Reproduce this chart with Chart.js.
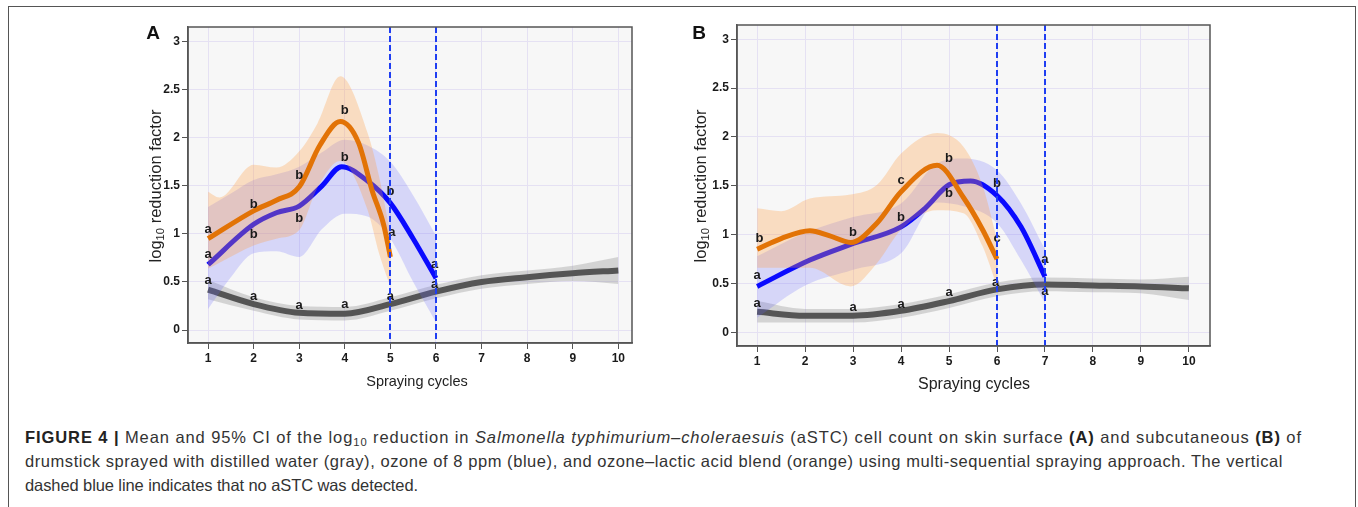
<!DOCTYPE html>
<html><head><meta charset="utf-8">
<script src="https://cdn.jsdelivr.net/npm/chart.js@4"></script>
<style>
html,body{margin:0;padding:0;background:#fff;width:1358px;height:507px;overflow:hidden;font-family:"Liberation Sans",Arial,sans-serif;}
#frame{position:absolute;left:8px;top:6px;width:1348px;height:530px;border:1.5px solid #555;box-sizing:border-box;}
canvas{position:absolute;}
.ytitle{position:absolute;white-space:nowrap;transform:translate(-50%,-50%) rotate(-90deg);font-size:16.5px;color:#222;}
.xtitle{position:absolute;white-space:nowrap;transform:translate(-50%,-50%);color:#222;}
.plabel{position:absolute;font-weight:bold;font-size:19px;transform:translate(-50%,-50%);color:#111;}
.cap{position:absolute;left:25px;white-space:nowrap;font-size:16.5px;color:#333;transform:translateY(-50%);}
.cap b{color:#222;}
sub{font-size:68%;vertical-align:-3px;line-height:0;}
</style></head>
<body>
<div id="frame"></div>
<canvas id="cA" width="540" height="400" style="left:110px;top:0px;"></canvas>
<canvas id="cB" width="560" height="400" style="left:660px;top:0px;"></canvas>
<div class="plabel" style="left:153px;top:33px;">A</div>
<div class="plabel" style="left:699px;top:33px;">B</div>
<div class="ytitle" style="left:155px;top:186px;">log<sub>10</sub> reduction factor</div>
<div class="ytitle" style="left:700px;top:186px;">log<sub>10</sub> reduction factor</div>
<div class="xtitle" style="left:417px;top:381px;font-size:14.5px;">Spraying cycles</div>
<div class="xtitle" style="left:974px;top:384px;font-size:16px;">Spraying cycles</div>
<div class="cap" data-w="1277" style="top:437px;"><b>FIGURE 4 |</b> Mean and 95% CI of the log<sub>10</sub> reduction in <i>Salmonella typhimurium–choleraesuis</i> (aSTC) cell count on skin surface <b>(A)</b> and subcutaneous <b>(B)</b> of</div>
<div class="cap" data-w="1258" style="top:461px;">drumstick sprayed with distilled water (gray), ozone of 8 ppm (blue), and ozone–lactic acid blend (orange) using multi-sequential spraying approach. The vertical</div>
<div class="cap" data-w="393" style="top:485px;">dashed blue line indicates that no aSTC was detected.</div>
<script>
// ---------- axis ticks ----------
const xTicks = [1,2,3,4,5,6,7,8,9,10];
const xTickLabels = ['1','2','3','4','5','6','7','8','9','10'];
const yTicks = [0,0.5,1,1.5,2,2.5,3];
const yTickLabels = ['0','0.5','1','1.5','2','2.5','3'];

// ---------- Panel A (skin surface) ----------
const A_grayX     = [1,2,3,4,5,6,7,8,9,10];
const A_grayMean  = [0.42,0.27,0.18,0.17,0.27,0.40,0.50,0.55,0.59,0.62];
const A_grayUpper = [0.52,0.34,0.25,0.24,0.34,0.47,0.57,0.62,0.67,0.76];
const A_grayLower = [0.32,0.20,0.11,0.10,0.20,0.33,0.43,0.48,0.51,0.48];

const A_blueX      = [1,2,2.5,3,3.5,3.93,4.5,5,5.5,6];
const A_blueMean   = [0.68,1.10,1.22,1.29,1.50,1.70,1.55,1.32,0.95,0.54];
const A_blueBandX  = [1,1.5,2,2.5,3,3.5,4,4.5,5,5.5,6];
const A_blueUpper  = [1.28,1.42,1.56,1.62,1.70,1.85,1.98,1.92,1.75,1.40,0.98];
const A_blueLower  = [0.22,0.55,0.80,0.82,0.76,1.05,1.21,1.18,0.95,0.50,0.08];

const A_orangeX     = [1,2,2.5,3,3.45,3.9,4.3,4.6,4.85,5];
const A_orangeMean  = [0.95,1.24,1.35,1.49,1.92,2.17,1.95,1.45,1.10,0.76];
const A_orangeBandX = [1,1.25,2,2.5,3,3.4,3.9,4.5,4.75,5];
const A_orangeUpper = [1.44,1.38,1.72,1.69,1.86,2.15,2.64,2.05,1.60,1.00];
const A_orangeLower = [0.64,0.70,0.88,0.95,1.04,1.48,1.76,1.25,0.80,0.45];

const A_noDetect = [5,6];
const A_letterX = [1,1,1, 2,2,2, 3,3,3, 4,4,4, 5,5.03,5, 5.97,5.97];
const A_letterY = [1.05,0.79,0.52, 1.31,0.99,0.35, 1.61,1.16,0.26, 2.29,1.80,0.27, 1.44,1.02,0.35, 0.68,0.47];
const A_letterT = ['a','a','a','b','b','a','b','b','a','b','b','a','b','a','a','a','a'];

// ---------- Panel B (subcutaneous) ----------
const B_grayX     = [1,2,3,4,5,6,7,8,9,10];
const B_grayMean  = [0.21,0.17,0.17,0.22,0.32,0.44,0.49,0.48,0.47,0.45];
const B_grayUpper = [0.32,0.24,0.24,0.29,0.39,0.51,0.56,0.55,0.54,0.57];
const B_grayLower = [0.10,0.10,0.10,0.15,0.25,0.37,0.42,0.41,0.40,0.33];

const B_blueX      = [1,2.1,2.95,4,4.5,5,5.45,6,6.5,7];
const B_blueMean   = [0.47,0.74,0.90,1.08,1.27,1.51,1.55,1.40,1.08,0.57];
const B_blueBandX  = [1,2,3,4,4.75,5.3,6,6.5,7];
const B_blueUpper  = [0.78,1.02,1.18,1.32,1.73,1.78,1.66,1.32,0.85];
const B_blueLower  = [0.15,0.48,0.64,0.81,1.33,1.29,1.12,0.74,0.30];

const B_orangeX     = [1,1.5,2.1,2.5,2.95,3.5,4,4.75,5.3,5.7,6];
const B_orangeMean  = [0.85,0.96,1.04,0.99,0.92,1.12,1.44,1.71,1.38,1.05,0.75];
const B_orangeBandX = [1,1.5,2.1,2.95,3.5,4,4.75,5.3,5.7,6];
const B_orangeUpper = [1.27,1.24,1.37,1.41,1.51,1.83,2.04,1.90,1.50,0.95];
const B_orangeLower = [0.66,0.66,0.66,0.47,0.71,1.05,1.25,1.22,0.88,0.47];

const B_noDetect = [6,7];
const B_letterX = [1.05,1,1, 3,3, 4,4,4, 5,5,5, 6,6,5.97, 7,7];
const B_letterY = [0.96,0.58,0.30, 1.02,0.25, 1.55,1.18,0.29, 1.78,1.42,0.41, 1.52,0.96,0.51, 0.75,0.42];
const B_letterT = ['b','a','a','b','a','c','b','a','b','b','a','b','c','a','a','a'];

// ---------- styles ----------
const FONT = '"Liberation Sans", Arial, sans-serif';
const C_ORANGE = '#e27306';
const C_BLUE = '#0a0aff';
const C_GRAY = '#555555';
const BAND_ORANGE = 'rgba(255,160,70,0.30)';
const BAND_BLUE = 'rgba(100,100,255,0.22)';
const BAND_GRAY = 'rgba(140,140,140,0.33)';
const GRID = '#e5e1f3';
const AXIS = '#555';

function pts(xs, ys){ return xs.map((x,i)=>({x:x, y:ys[i]})); }
function lineDS(xs, ys, color, w, order){
  return {data:pts(xs,ys), borderColor:color, borderWidth:w, pointRadius:0, fill:false,
          cubicInterpolationMode:'monotone', order:order, borderCapStyle:'butt', borderJoinStyle:'round'};
}
function bandDS(xs, up, lo, color, order){
  return [
    {data:pts(xs,up), borderColor:'rgba(0,0,0,0)', borderWidth:0, pointRadius:0, backgroundColor:color,
     fill:'+1', cubicInterpolationMode:'monotone', order:order},
    {data:pts(xs,lo), borderColor:'rgba(0,0,0,0)', borderWidth:0, pointRadius:0, fill:false,
     cubicInterpolationMode:'monotone', order:order}
  ];
}

const overlay = {
  id:'overlay',
  beforeDraw(chart){
    const a = chart.chartArea, ctx = chart.ctx;
    ctx.save(); ctx.fillStyle = '#f7f7f7';
    ctx.fillRect(a.left, a.top, a.right-a.left, a.bottom-a.top); ctx.restore();
  },
  afterDatasetsDraw(chart){
    const o = chart.options.plugins.overlay;
    const a = chart.chartArea, ctx = chart.ctx;
    const xs = chart.scales.x, ys = chart.scales.y;
    ctx.save();
    // letters
    ctx.font = 'bold 13px ' + FONT;
    ctx.fillStyle = '#1a1a1a';
    ctx.textAlign = 'center'; ctx.textBaseline = 'middle';
    o.lx.forEach((x,i)=>{ ctx.fillText(o.lt[i], xs.getPixelForValue(x), ys.getPixelForValue(o.ly[i])); });
    // dashed no-detection lines
    ctx.strokeStyle = '#1f3ef2'; ctx.lineWidth = 2; ctx.setLineDash([6,3]);
    o.vlines.forEach(v=>{
      const px = Math.round(xs.getPixelForValue(v));
      ctx.beginPath(); ctx.moveTo(px, a.top); ctx.lineTo(px, a.bottom); ctx.stroke();
    });
    ctx.setLineDash([]);
    // frame
    ctx.strokeStyle = AXIS; ctx.lineWidth = 1.5;
    ctx.strokeRect(a.left, a.top, a.right-a.left, a.bottom-a.top);
    ctx.restore();
  }
};

function makeChart(id, p){
  const datasets = [
    ...bandDS(p.grayX, p.grayUp, p.grayLo, BAND_GRAY, 6),
    lineDS(p.grayX, p.grayMean, C_GRAY, 6, 5),
    ...bandDS(p.blueBX, p.blueUp, p.blueLo, BAND_BLUE, 4),
    lineDS(p.blueX, p.blueMean, C_BLUE, 5, 3),
    ...bandDS(p.orangeBX, p.orangeUp, p.orangeLo, BAND_ORANGE, 2),
    lineDS(p.orangeX, p.orangeMean, C_ORANGE, 5, 1)
  ];
  return new Chart(document.getElementById(id), {
    type:'line',
    data:{datasets:datasets},
    plugins:[overlay],
    options:{
      responsive:false, animation:false, events:[],
      layout:{padding:p.pad},
      plugins:{legend:{display:false}, tooltip:{enabled:false},
               overlay:{lx:p.lx, ly:p.ly, lt:p.lt, vlines:p.vlines}},
      scales:{
        x:{type:'linear', min:p.xmin, max:p.xmax,
           afterBuildTicks:s=>{ s.ticks = xTicks.map(v=>({value:v})); },
           afterFit:s=>{ s.height = p.xh; },
           ticks:{callback:(v,i)=>xTickLabels[i], autoSkip:false, maxRotation:0, padding:2,
                  color:'#1a1a1a', font:{family:FONT, size:12, weight:'bold'}},
           grid:{color:GRID, lineWidth:1, tickColor:AXIS, tickLength:6, drawTicks:true},
           border:{display:true, color:AXIS, width:1.5}},
        y:{type:'linear', min:p.ymin, max:p.ymax,
           afterBuildTicks:s=>{ s.ticks = yTicks.map(v=>({value:v})); },
           afterFit:s=>{ s.width = p.yw; },
           ticks:{callback:(v,i)=>yTickLabels[i], autoSkip:false, padding:2,
                  color:'#1a1a1a', font:{family:FONT, size:12, weight:'bold'}},
           grid:{color:GRID, lineWidth:1, tickColor:AXIS, tickLength:6, drawTicks:true},
           border:{display:true, color:AXIS, width:1.5}}
      }
    }
  });
}

makeChart('cA', {
  grayX:A_grayX, grayMean:A_grayMean, grayUp:A_grayUpper, grayLo:A_grayLower,
  blueX:A_blueX, blueMean:A_blueMean, blueBX:A_blueBandX, blueUp:A_blueUpper, blueLo:A_blueLower,
  orangeX:A_orangeX, orangeMean:A_orangeMean, orangeBX:A_orangeBandX, orangeUp:A_orangeUpper, orangeLo:A_orangeLower,
  lx:A_letterX, ly:A_letterY, lt:A_letterT, vlines:A_noDetect,
  xmin:0.56, xmax:10.3, ymin:-0.135, ymax:3.153,
  pad:{left:0, top:27, right:18, bottom:0}, yw:78, xh:57
});
makeChart('cB', {
  grayX:B_grayX, grayMean:B_grayMean, grayUp:B_grayUpper, grayLo:B_grayLower,
  blueX:B_blueX, blueMean:B_blueMean, blueBX:B_blueBandX, blueUp:B_blueUpper, blueLo:B_blueLower,
  orangeX:B_orangeX, orangeMean:B_orangeMean, orangeBX:B_orangeBandX, orangeUp:B_orangeUpper, orangeLo:B_orangeLower,
  lx:B_letterX, ly:B_letterY, lt:B_letterT, vlines:B_noDetect,
  xmin:0.58, xmax:10.44, ymin:-0.14, ymax:3.146,
  pad:{left:0, top:25, right:10, bottom:0}, yw:77, xh:54
});

// fit caption lines to the reference line lengths
document.querySelectorAll('.cap').forEach(el=>{
  const target = +el.dataset.w;
  const w = el.getBoundingClientRect().width;
  const n = el.textContent.length;
  el.style.letterSpacing = ((target - w)/n).toFixed(3) + 'px';
});
</script>
</body></html>
